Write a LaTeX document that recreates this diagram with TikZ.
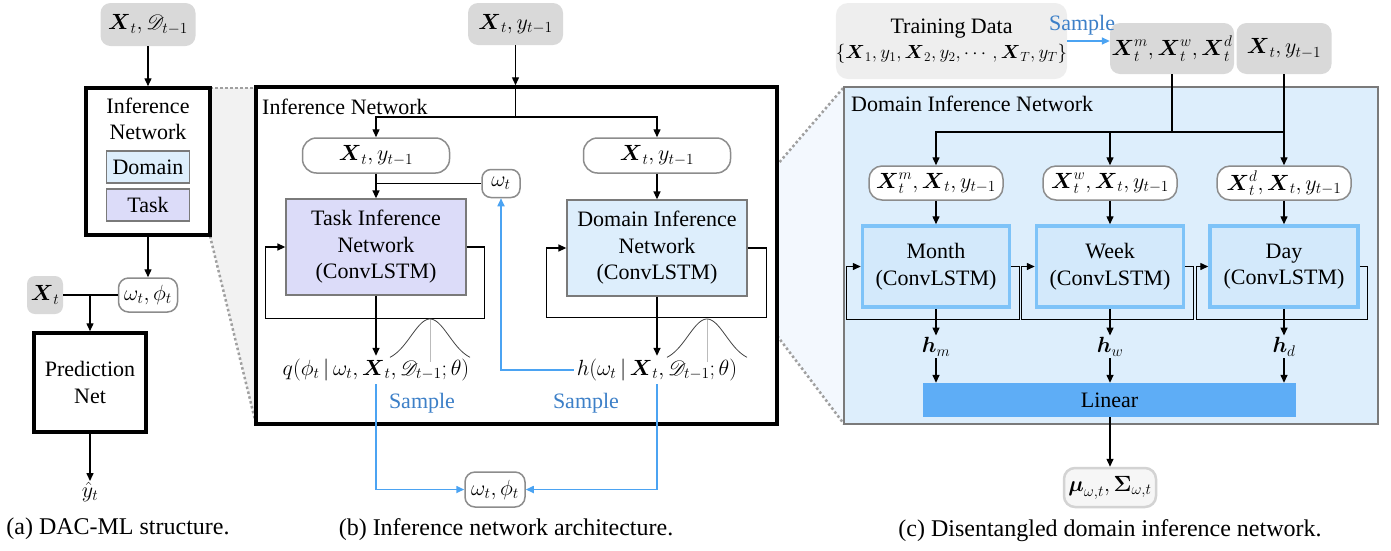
\IfFileExists{fix-cm.sty}{\RequirePackage{fix-cm}}{}
\documentclass[tikz,border=0pt]{standalone}
\usepackage{amsmath}
\usepackage{fontspec}
\setmainfont{Liberation Serif}
\IfFileExists{mathrsfs.sty}{\usepackage{mathrsfs}\newcommand{\sD}{\mathscr{D}}}{\newcommand{\sD}{\mathcal{D}}}
\usetikzlibrary{arrows.meta,calc}
\definecolor{grayin}{HTML}{D9D9D9}
\definecolor{traingray}{HTML}{EEEEEE}
\definecolor{pilldraw}{HTML}{8C8C8C}
\definecolor{tasklav}{HTML}{DCDCF9}
\definecolor{domlight}{HTML}{DDEEFC}
\definecolor{boxgray}{HTML}{7A7A7A}
\definecolor{cfill}{HTML}{DDEEFC}
\definecolor{modfill}{HTML}{D3E9FB}
\definecolor{modedge}{HTML}{7EC3F8}
\definecolor{linblue}{HTML}{5EADF6}
\definecolor{blueline}{HTML}{4BA3F2}
\definecolor{sampleblue}{HTML}{3D80C8}
\definecolor{zoomA}{HTML}{F2F2F2}
\definecolor{zoomB}{HTML}{F3F8FE}
\definecolor{mufill}{HTML}{F6F6F6}
\definecolor{mudraw}{HTML}{D3D3D3}
\definecolor{zoomdot}{HTML}{A0A0A0}
\definecolor{gausscol}{HTML}{444444}
\definecolor{gaussaxis}{HTML}{BBBBBB}
\newcommand{\bX}{\boldsymbol{X}}
\begin{document}
\begin{tikzpicture}[x=1pt,y=-1pt,font=\rmfamily\fontsize{22}{26.5}\selectfont,
  ln/.style={line width=1.4pt},
  arr/.style={line width=1.4pt,-{Triangle[length=8pt,width=7pt]}},
  barr/.style={line width=1.6pt,draw=blueline,-{Triangle[length=8pt,width=7pt]}},
  inbox/.style={fill=grayin,rounded corners=10pt,inner sep=0pt},
  pill/.style={draw=pilldraw,fill=white,line width=1.5pt,rounded corners=12pt,inner sep=0pt},
  thickbox/.style={draw=black,line width=3.5pt,fill=white,inner sep=0pt},
  taskbox/.style={draw=boxgray,line width=1.3pt,fill=tasklav,inner sep=0pt,align=center},
  dombox/.style={draw=boxgray,line width=1.3pt,fill=domlight,inner sep=0pt,align=center},
  modbox/.style={draw=modedge,line width=3.5pt,fill=modfill,inner sep=0pt,align=center},
  zoomline/.style={draw=zoomdot,line width=2.5pt,dash pattern=on 2.5pt off 2.5pt},
  samplelbl/.style={text=sampleblue,inner sep=0pt},
  gauss/.style={draw=gausscol,line width=0.8pt},
  gaxis/.style={draw=gaussaxis,line width=1pt},
  caption/.style={inner sep=0pt,font=\rmfamily\fontsize{24}{28}\selectfont}
]
\useasboundingbox (0,0) rectangle (1391,550);

% ---------- zoom regions ----------
\fill[zoomA] (210,88) -- (256,88) -- (256,424) -- (210,236) -- cycle;
\draw[zoomline] (210,88) -- (256,88);
\draw[zoomline] (210,236) -- (256,424);
\fill[zoomB] (747,200) -- (844,87) -- (844,424) -- (747,296) -- cycle;
\draw[zoomline] (747,200) -- (844,87);
\draw[zoomline] (747,296) -- (844,424);

% ---------- (a) ----------
\node[inbox,minimum width=95pt,minimum height=43pt] (ain) at (148,24.5) {$\bX_t, \sD_{t-1}$};
\node[thickbox,minimum width=124pt,minimum height=147pt] (ainf) at (148,161.5) {};
\node[inner sep=0pt,align=center] (ainflbl) at (148,119) {Inference\\Network};
\node[dombox,minimum width=83pt,minimum height=32pt] (adom) at (148,167) {Domain};
\node[taskbox,minimum width=83pt,minimum height=32pt] (atask) at (148,205) {Task};
\node[pill,minimum width=59pt,minimum height=34pt,rounded corners=10pt] (aout) at (148,295) {$\omega_t, \phi_t$};
\node[inbox,minimum width=36pt,minimum height=38pt,rounded corners=8pt] (axt) at (45,295) {$\bX_t$};
\node[thickbox,minimum width=112pt,minimum height=99pt,align=center] (apred) at (90,382.5) {Prediction\\Net};
\node[inner sep=1pt] (ayhat) at (90,492) {$\hat{y}_t$};
\node[caption] (capa) at (118,529) {(a) DAC-ML structure.};
\draw[arr] (ain.south) -- (ainf.north);
\draw[arr] (ainf.south) -- (aout.north);
\draw[ln] (axt.east) -- (aout.west);
\draw[arr] (apred.north |- axt.east) -- (apred.north);
\draw[arr] (apred.south) -- (ayhat.north);

% ---------- (b) ----------
\node[thickbox,minimum width=521pt,minimum height=337pt] (bbox) at (516.5,255.5) {};
\node[anchor=west,inner sep=0pt] (blabel) at (262,107) {Inference Network};
\node[inbox,minimum width=95pt,minimum height=42pt] (bin) at (515.5,24) {$\bX_t, y_{t-1}$};
\coordinate (bj) at (515.5,117);
\draw[arr] (bin.south) -- (bin.south |- bbox.north);
\draw[ln] (bin.south |- bbox.north) -- (bj);
\node[pill,minimum width=147pt,minimum height=35pt,rounded corners=14pt] (bxl) at (376,155.5) {$\bX_t, y_{t-1}$};
\node[pill,minimum width=147pt,minimum height=35pt,rounded corners=14pt] (bxr) at (657,155.5) {$\bX_t, y_{t-1}$};
\draw[arr] (bj) -| (bxl.north);
\draw[arr] (bj) -| (bxr.north);
\node[pill,minimum width=38pt,minimum height=28pt,rounded corners=9pt] (bom) at (501,183.5) {$\omega_t$};
\node[taskbox,minimum width=180pt,minimum height=96pt] (btask) at (376,247) {Task Inference\\Network\\(ConvLSTM)};
\node[dombox,minimum width=180pt,minimum height=96pt] (bdom) at (657,248) {Domain Inference\\Network\\(ConvLSTM)};
\draw[arr] (bxl.south) -- (btask.north);
\draw[ln] (bxl.south |- bom.west) -- (bom.west);
\draw[arr] (bxr.south) -- (bdom.north);
\draw[arr] (btask.east) -| ($(btask.south east)+(18,23)$) -| ($(btask.south west)+(-20,23)$) |- (btask.west);
\draw[arr] (bdom.east) -| ($(bdom.south east)+(19,21)$) -| ($(bdom.south west)+(-20,21)$) |- (bdom.west);
% gaussians
\draw[gaxis] (430,319) -- (430,362);
\draw[gauss] plot[domain=-40:40,samples=60,smooth] ({430+\x},{362-43*exp(-(\x*\x)/(2*19*19))});
\draw[gaxis] (707,319) -- (707,362);
\draw[gauss] plot[domain=-40:40,samples=60,smooth] ({707+\x},{362-43*exp(-(\x*\x)/(2*19*19))});
\node[inner sep=3pt,fill=none] (bq) at (376,370) {$q(\phi_t\,|\,\omega_t, \bX_t, \sD_{t-1};\theta)$};
\node[inner sep=3pt] (bh) at (657,370) {$h(\omega_t\,|\,\bX_t, \sD_{t-1};\theta)$};
\draw[arr] (btask.south) -- (bq.north);
\draw[arr] (bdom.south) -- (bh.north);
\draw[barr] (bh.west) -| (bom.south);
\node[samplelbl] (bs1) at (422,403) {Sample};
\node[samplelbl] (bs2) at (586,403) {Sample};
\node[pill,minimum width=60pt,minimum height=35pt,rounded corners=10pt] (bout) at (495,489.5) {$\omega_t, \phi_t$};
\draw[barr] (bq.south) |- (bout.west);
\draw[barr] (bh.south) |- (bout.east);
\node[caption] (capb) at (506,530) {(b) Inference network architecture.};

% ---------- (c) ----------
\node[fill=cfill,draw=boxgray,line width=1.5pt,minimum width=534pt,minimum height=337pt,inner sep=0pt] (cbox) at (1111,255.5) {};
\node[anchor=west,inner sep=0pt] (clabel) at (851,104) {Domain Inference Network};
\node[fill=traingray,rounded corners=12pt,minimum width=207pt,minimum height=76pt,inner sep=0pt,align=center] (ctrain) at (951.5,41) {Training Data\\[-2pt]{\fontsize{19}{22}\selectfont$\{\bX_1, y_1, \bX_2, y_2, \cdots, \bX_T, y_T\}$}};
\node[inbox,minimum width=124pt,minimum height=51pt] (cxm) at (1172,48.5) {$\bX_t^m, \bX_t^w, \bX_t^d$};
\node[inbox,minimum width=95pt,minimum height=51pt] (cxy) at (1284,48.5) {$\bX_t, y_{t-1}$};
\node[samplelbl] (csample) at (1082,25) {Sample};
\draw[barr] (ctrain.east) -- (cxm.west |- ctrain.east);
\node[pill,minimum width=134pt,minimum height=34pt,rounded corners=13pt] (cr1) at (936,183) {$\bX_t^m, \bX_t, y_{t-1}$};
\node[pill,minimum width=134pt,minimum height=34pt,rounded corners=13pt] (cr2) at (1110,183) {$\bX_t^w, \bX_t, y_{t-1}$};
\node[pill,minimum width=134pt,minimum height=34pt,rounded corners=13pt] (cr3) at (1284,183) {$\bX_t^d, \bX_t, y_{t-1}$};
\coordinate (cj) at (1172,132);
\draw[ln] (cxm.south) -- (cj);
\draw[ln] (cj) -- (cxy.south |- cj);
\draw[arr] (cxy.south) -- (cr3.north);
\draw[arr] (cj) -| (cr1.north);
\draw[arr] (cj -| cr2.north) -- (cr2.north);
\node[modbox,minimum width=147pt,minimum height=81pt] (m1) at (936,266.5) {Month\\(ConvLSTM)};
\node[modbox,minimum width=147pt,minimum height=81pt] (m2) at (1110,266.5) {Week\\(ConvLSTM)};
\node[modbox,minimum width=148pt,minimum height=81pt] (m3) at (1284,266.5) {Day\\(ConvLSTM)};
\draw[arr] (cr1.south) -- (m1.north);
\draw[arr] (cr2.south) -- (m2.north);
\draw[arr] (cr3.south) -- (m3.north);
\draw[arr] (m1.east) -| ($(m1.south east)+(8,11)$) -| ($(m1.south west)+(-14,11)$) |- (m1.west);
\draw[arr] (m2.east) -| ($(m2.south east)+(8,11)$) -| ($(m2.south west)+(-13,11)$) |- (m2.west);
\draw[arr] (m3.east) -| ($(m3.south east)+(8,11)$) -| ($(m3.south west)+(-12,11)$) |- (m3.west);
\node[inner sep=2pt] (h1) at (936,347) {$\boldsymbol{h}_m$};
\node[inner sep=2pt] (h2) at (1110,347) {$\boldsymbol{h}_w$};
\node[inner sep=2pt] (h3) at (1284,347) {$\boldsymbol{h}_d$};
\draw[arr] (m1.south) -- (h1.north);
\draw[arr] (m2.south) -- (h2.north);
\draw[arr] (m3.south) -- (h3.north);
\node[fill=linblue,minimum width=373pt,minimum height=34pt,inner sep=0pt] (clin) at (1109.5,400) {Linear};
\draw[arr] (h1.south) -- (h1.south |- clin.north);
\draw[arr] (h2.south) -- (h2.south |- clin.north);
\draw[arr] (h3.south) -- (h3.south |- clin.north);
\node[fill=mufill,draw=mudraw,line width=2.5pt,rounded corners=11pt,minimum width=92pt,minimum height=39pt,inner sep=0pt] (cmu) at (1110,487.5) {$\boldsymbol{\mu}_{\omega,t}, \boldsymbol{\Sigma}_{\omega,t}$};
\draw[arr] (clin.south -| cmu.north) -- (cmu.north);
\node[caption] (capc) at (1110,531) {(c) Disentangled domain inference network.};
\end{tikzpicture}
\end{document}
